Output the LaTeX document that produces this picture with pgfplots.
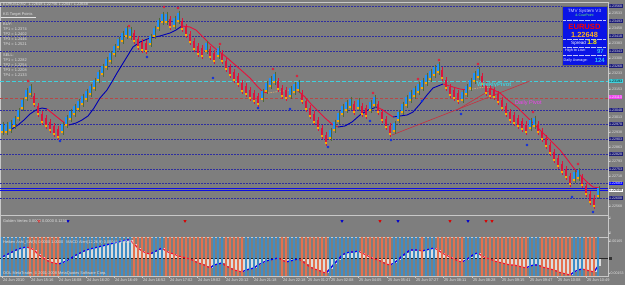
\documentclass[border=0pt]{standalone}
\usepackage{fontspec}
\setmainfont{Liberation Sans}
\usepackage{pgfplots}
\pgfplotsset{compat=1.18}
\usepackage{pgfplotstable}
\definecolor{bg}{HTML}{7E7E7E}
\definecolor{frame}{HTML}{C8C8C8}
\definecolor{hablue}{HTML}{1E90FF}
\definecolor{haolive}{HTML}{4F6B35}
\definecolor{hared}{HTML}{DC143C}
\definecolor{tip}{HTML}{FFA500}
\definecolor{maBlue}{HTML}{0000B4}
\definecolor{maRed}{HTML}{E8103C}
\definecolor{maTan}{HTML}{C8A070}
\definecolor{lvl}{HTML}{2E2EA0}
\definecolor{wp}{HTML}{40D0DC}
\definecolor{dp}{HTML}{B84646}
\definecolor{dpm}{HTML}{F040F0}
\definecolor{txt}{HTML}{E2E2E2}
\definecolor{navybox}{HTML}{1C1C78}
\definecolor{macdBlue}{HTML}{3F8DC6}
\definecolor{macdOr}{HTML}{E3714F}
\definecolor{hist}{HTML}{DCDCDC}
\definecolor{tmv}{HTML}{0A14E6}
\definecolor{trend}{HTML}{C83040}
\definecolor{frred}{HTML}{E0203C}
\definecolor{frblue}{HTML}{1030E0}
\definecolor{gold}{HTML}{FFB020}
\newcommand{\ft}{\fontsize{3.9}{4.4}\selectfont}
\newcommand{\lb}{\fontsize{3.6}{4}\selectfont}

% all bars: x, candle centre (px), MACD value
\pgfplotstableread{
x c m
2 128 1
6 128 3
10 126 5
14 122 7
18 114 9
22 104 10
26 94 11
30 90 10
34 100 8
38 110 4
42 118 1
46 122 -2
50 126 -4
54 130 -5
58 133 -6
62 128 -5
66 121 -3
70 115 -1
74 110 2
78 105 4
82 100 6
86 95 8
90 90 9
94 84 10
98 76 11
102 70 12
106 63 13
110 57 14
114 50 15
118 43 16
122 37 17
126 32 18
130 33 18
134 37 14
138 43 10
142 46 7
146 47 5
150 40 4
154 32 6
158 24 8
162 18 10
166 18 7
170 23 5
174 22 4
178 17 2
182 25 1
186 31 0
190 38 -1
194 45 -3
198 50 -5
202 52 -6
206 47 -8
210 53 -10
214 57 -7
218 52 -6
222 57 -5
226 65 -8
230 71 -10
234 76 -12
238 80 -13
242 87 -14
246 90 -12
250 94 -11
254 97 -10
258 100 -7
262 95 -5
266 87 -3
270 82 -2
274 78 -1
278 85 0
282 92 -2
286 94 -4
290 92 -3
294 88 -2
298 86 -1
302 97 -3
306 105 -6
310 112 -9
314 118 -11
318 124 -12
322 132 -14
326 139 -15
330 134 -11
334 126 -6
338 117 -2
342 110 3
346 106 5
350 103 6
354 108 6
358 104 7
362 110 5
366 112 3
370 106 1
374 101 -1
378 108 -2
382 116 -4
386 123 -6
390 130 -7
394 127 -5
398 116 -2
402 108 2
406 101 5
410 96 8
414 92 8
418 88 8
422 84 7
426 79 8
430 75 9
434 71 10
438 68 8
442 74 5
446 84 3
450 91 1
454 94 -1
458 97 -3
462 96 -4
466 90 -2
470 84 1
474 77 4
478 73 5
482 80 2
486 89 0
490 92 -1
494 93 -3
498 98 -4
502 104 -5
506 110 -6
510 116 -7
514 119 -7
518 122 -8
522 125 -9
526 128 -10
530 124 -8
534 122 -7
538 128 -7
542 135 -9
546 142 -10
550 149 -11
554 156 -12
558 162 -14
562 168 -15
566 173 -16
570 180 -17
574 176 -14
578 174 -12
582 181 -11
586 190 -12
590 198 -13
594 202 -14
598 192 -8
}\bars

% bullish (blue) candles
\pgfplotstableread{
x c
2 128
6 128
10 126
14 122
18 114
22 104
26 94
30 90
62 128
66 121
70 115
74 110
78 105
82 100
86 95
90 90
94 84
98 76
102 70
106 63
110 57
114 50
118 43
122 37
126 32
130 33
150 40
154 32
158 24
162 18
166 18
174 22
178 17
206 47
218 52
262 95
266 87
270 82
274 78
290 92
294 88
298 86
330 134
334 126
338 117
342 110
346 106
350 103
358 104
370 106
374 101
394 127
398 116
402 108
406 101
410 96
414 92
418 88
422 84
426 79
430 75
434 71
438 68
462 96
466 90
470 84
474 77
478 73
530 124
534 122
574 176
578 174
598 192
}\bluec

% bearish (red) candles
\pgfplotstableread{
x c
34 100
38 110
42 118
46 122
50 126
54 130
58 133
134 37
138 43
142 46
146 47
170 23
182 25
186 31
190 38
194 45
198 50
202 52
210 53
214 57
222 57
226 65
230 71
234 76
238 80
242 87
246 90
250 94
254 97
258 100
278 85
282 92
286 94
302 97
306 105
310 112
314 118
318 124
322 132
326 139
354 108
362 110
366 112
378 108
382 116
386 123
390 130
442 74
446 84
450 91
454 94
458 97
482 80
486 89
490 92
494 93
498 98
502 104
506 110
510 116
514 119
518 122
522 125
526 128
538 128
542 135
546 142
550 149
554 156
558 162
562 168
566 173
570 180
582 181
586 190
590 198
594 202
}\redc

\begin{document}
\begin{tikzpicture}[x=1pt,y=1pt]
\useasboundingbox (0,0) rectangle (625,285);
\fill[bg] (0,0) rectangle (625,285);

% ---------------- main price panel ----------------
\begin{axis}[
  at={(0pt,70pt)}, anchor=south west, scale only axis,
  width=608pt, height=213pt,
  xmin=0, xmax=608, ymin=2, ymax=215, y dir=reverse,
  clip=false,
  axis line style={draw=frame, line width=0.6pt},
  xtick=\empty,
  ytick pos=right,
  ytick={13,28,43,58,73,89,117,132,147,161,176,206},
  yticklabels={1.23533,1.23458,1.23383,1.23308,1.23233,1.23153,1.23013,1.22938,1.22863,1.22793,1.22718,1.22568},
  yticklabel pos=right,
  yticklabel style={font=\lb, text=txt, inner sep=0.4pt, anchor=west, xshift=-1pt},
  tick align=outside, major tick length=1.5pt, tick style={draw=frame, line width=0.4pt},
  extra y ticks={6,21,36,51,66,110,124,139,154,169,198},
  extra y tick labels={1.23568,1.23493,1.23418,1.23343,1.23268,1.23048,1.22978,1.22903,1.22828,1.22753,1.22608},
  extra y tick style={yticklabel style={fill=navybox}},
]
% level lines
\pgfplotsinvokeforeach{6,21,36,51,66,110,124,139,154,169,183,198}{
  \addplot[lvl, line width=0.4pt, dash pattern=on 1.5pt off 1.5pt, forget plot] coordinates {(0,#1) (608,#1)};
}
\addplot[wp, line width=0.6pt, dash pattern=on 4pt off 2pt] coordinates {(0,81) (608,81)};
\addplot[dp, line width=0.5pt, dash pattern=on 3pt off 2pt] coordinates {(0,98) (608,98)};
\addplot[blue!70!lvl, line width=0.4pt] coordinates {(0,188) (608,188)};
\addplot[blue!70!lvl, line width=0.4pt] coordinates {(0,190.5) (608,190.5)};
% trend lines
\addplot[trend, line width=0.6pt] coordinates {(392,135) (530,81)};
\addplot[trend, line width=0.6pt] coordinates {(457,110) (492,89)};
% candles: wicks
\addplot[only marks, mark=|, mark size=6.5, mark options={draw=haolive, line width=1.3pt}] table[x expr=\thisrow{x}+1.5, y=c] {\bluec};
\addplot[only marks, mark=|, mark size=7, mark options={draw=hared, line width=0.7pt}] table[x=x, y=c] {\redc};
% candles: bodies
\addplot[only marks, mark=|, mark size=4, mark options={draw=hablue, line width=2pt}] table[x=x, y=c] {\bluec};
\addplot[only marks, mark=|, mark size=4, mark options={draw=hared, line width=2pt}] table[x=x, y=c] {\redc};
\addplot[only marks, mark=square*, mark size=0.45, color=tip] table[x=x, y expr=\thisrow{c}+4] {\bars};
% moving average
\addplot[maBlue, line width=0.9pt] coordinates {(12,129) (18,125) (24,120) (30,114) (36,110) (42,108) (47,109)};
\addplot[maRed, line width=0.9pt] coordinates {(47,109) (52,113) (57,117) (62,121) (66,124) (69,125)};
\addplot[maBlue, line width=0.9pt] coordinates {(69,125) (76,123) (82,120) (88,116) (94,108) (100,98) (107,90) (113,80) (117,73) (125,60) (133,47) (140,42) (150,38) (160,36) (170,33) (176,30) (182,26)};
\addplot[maRed, line width=0.9pt] coordinates {(182,26) (190,27) (196,30) (203,37) (210,44) (217,50) (225,56) (233,63) (241,70) (250,78) (257,86) (263,92) (268,93)};
\addplot[maTan, line width=0.9pt, dash pattern=on 1.5pt off 1pt] coordinates {(268,93) (275,92) (283,91) (290,90) (297,90)};
\addplot[maRed, line width=0.9pt] coordinates {(297,90) (305,97) (311,104) (317,110) (325,118) (333,125) (338,127)};
\addplot[maBlue, line width=0.9pt] coordinates {(338,127) (345,126) (352,122) (360,115) (368,110) (377,107)};
\addplot[maRed, line width=0.9pt] coordinates {(377,107) (383,110) (387,113) (393,117)};
\addplot[maBlue, line width=0.9pt] coordinates {(393,117) (400,116) (407,115) (413,112) (420,104) (427,95) (433,88) (443,84)};
\addplot[maRed, line width=0.9pt] coordinates {(443,84) (453,87) (460,89) (467,90)};
\addplot[maTan, line width=0.9pt, dash pattern=on 1.5pt off 1pt] coordinates {(467,90) (478,88) (485,87) (490,88)};
\addplot[maRed, line width=0.9pt] coordinates {(490,88) (500,93) (508,100) (517,107) (524,114) (530,120) (537,127) (543,133) (552,142) (560,150) (567,159) (573,167) (578,173) (583,178) (588,183) (593,187) (600,188)};
% fractals
\addplot[only marks, mark=*, mark size=1.2, color=frred] coordinates {(28,81) (129,26) (164,7) (178,8) (220,44) (273,69) (297,76) (373,93) (418,79) (439,60) (478,64) (533,112) (578,164)};
\addplot[only marks, mark=*, mark size=1.2, color=frblue] coordinates {(60,141) (147,57) (213,78) (258,108) (290,109) (328,147) (370,121) (391,140) (422,101) (461,114) (527,145) (572,197) (593,212)};
\end{axis}

% ---------------- Golden Vertex panel ----------------
\begin{axis}[
  at={(0pt,48pt)}, anchor=south west, scale only axis,
  width=608pt, height=22pt,
  xmin=0, xmax=608, ymin=-0.267, ymax=1.2,
  clip=false,
  axis line style={draw=frame, line width=0.6pt},
  xtick=\empty,
  ytick pos=right, ytick={0,1}, yticklabels={0,1},
  yticklabel style={font=\lb, text=txt, inner sep=0.4pt, anchor=west, xshift=-1pt},
  tick align=outside, major tick length=1.5pt, tick style={draw=frame, line width=0.4pt},
]
\addplot[only marks, mark=triangle*, mark size=1.4, color=red!85!black, mark options={rotate=180}] coordinates {(39,0.8) (185,0.8) (380,0.8) (450,0.8) (486,0.8) (492,0.8)};
\addplot[only marks, mark=triangle*, mark size=1.4, color=blue!80!black, mark options={rotate=180}] coordinates {(68,0.8) (342,0.8) (398,0.8) (468,0.8)};
\end{axis}

% ---------------- MACD panel ----------------
\begin{axis}[
  at={(0pt,9pt)}, anchor=south west, scale only axis,
  width=608pt, height=39pt,
  xmin=0, xmax=608, ymin=-18, ymax=21,
  clip=false,
  axis line style={draw=frame, line width=0.6pt},
  xtick pos=left,
  xtick={2,30,58,86,114,142,169,197,225,253,282,307,330,358,387,415,443,472,501,529,557,586},
  xticklabels={24 Jun 2010,24 Jun 15:16,24 Jun 16:08,24 Jun 16:20,24 Jun 16:49,24 Jun 16:52,24 Jun 17:02,24 Jun 19:02,24 Jun 20:12,24 Jun 21:18,24 Jun 22:18,25 Jun 01:27,25 Jun 02:08,25 Jun 04:05,25 Jun 05:41,25 Jun 07:27,25 Jun 08:11,25 Jun 08:28,25 Jun 09:15,25 Jun 09:47,25 Jun 10:08,25 Jun 10:49},
  xticklabel style={anchor=north west, font=\ft, text=txt, inner sep=0.3pt, xshift=0.5pt},
  ytick pos=right, ytick={17,-15}, yticklabels={0.00165,-0.00153},
  yticklabel style={font=\lb, text=txt, inner sep=0.4pt, anchor=west, xshift=-1pt},
  tick align=outside, major tick length=1.8pt, tick style={draw=frame, line width=0.4pt},
]
% direction stripes
\addplot[only marks, mark=|, mark size=19.5, mark options={draw=macdBlue, line width=2pt}]
  table[row sep=\\, x=x, y expr=1.5] {x\\2\\6\\10\\14\\18\\22\\26\\62\\66\\70\\74\\78\\82\\86\\90\\94\\98\\102\\106\\110\\114\\118\\122\\126\\130\\154\\158\\162\\214\\218\\222\\246\\250\\254\\258\\262\\266\\270\\274\\278\\290\\294\\298\\330\\334\\338\\342\\346\\350\\354\\358\\394\\398\\402\\406\\410\\414\\418\\426\\430\\434\\466\\470\\474\\478\\530\\534\\538\\574\\578\\582\\598\\};
\addplot[only marks, mark=|, mark size=19.5, mark options={draw=macdOr, line width=2pt}]
  table[row sep=\\, x=x, y expr=1.5] {x\\30\\34\\38\\42\\46\\50\\54\\58\\134\\138\\142\\146\\150\\166\\170\\174\\178\\182\\186\\190\\194\\198\\202\\206\\210\\226\\230\\234\\238\\242\\282\\286\\302\\306\\310\\314\\318\\322\\326\\362\\366\\370\\374\\378\\382\\386\\390\\422\\438\\442\\446\\450\\454\\458\\462\\482\\486\\490\\494\\498\\502\\506\\510\\514\\518\\522\\526\\542\\546\\550\\554\\558\\562\\566\\570\\586\\590\\594\\};
\addplot[ycomb, draw=hist, line width=1.1pt] table[x expr=\thisrow{x}+2, y=m] {\bars};
\addplot[black!85, line width=0.5pt] coordinates {(0,0) (608,0)};
\addplot[maRed, line width=1.1pt] table[x=x, y=m] {\bars};
\pgfplotsset{mb/.style={blue, line width=1.1pt}}
\addplot[mb] coordinates {(2,1)(6,3)(10,5)(14,7)(18,9)(22,10)(26,11)};
\addplot[mb] coordinates {(58,-6)(62,-5)(66,-3)(70,-1)(74,2)(78,4)(82,6)(86,8)(90,9)(94,10)(98,11)(102,12)(106,13)(110,14)(114,15)(118,16)(122,17)(126,18)(130,18)};
\addplot[mb] coordinates {(150,4)(154,6)(158,8)(162,10)};
\addplot[mb] coordinates {(210,-10)(214,-7)(218,-6)(222,-5)};
\addplot[mb] coordinates {(242,-14)(246,-12)(250,-11)(254,-10)(258,-7)(262,-5)(266,-3)(270,-2)(274,-1)(278,0)};
\addplot[mb] coordinates {(286,-4)(290,-3)(294,-2)(298,-1)};
\addplot[mb] coordinates {(326,-15)(330,-11)(334,-6)(338,-2)(342,3)(346,5)(350,6)(354,6)(358,7)};
\addplot[mb] coordinates {(390,-7)(394,-5)(398,-2)(402,2)(406,5)(410,8)(414,8)(418,8)};
\addplot[mb] coordinates {(422,7)(426,8)(430,9)(434,10)};
\addplot[mb] coordinates {(462,-4)(466,-2)(470,1)(474,4)(478,5)};
\addplot[mb] coordinates {(526,-10)(530,-8)(534,-7)(538,-7)};
\addplot[mb] coordinates {(570,-17)(574,-14)(578,-12)(582,-11)};
\addplot[mb] coordinates {(594,-14)(598,-8)};
\end{axis}

% ---------------- overlays ----------------
\fill[black!80] (608.5,25.5) rectangle (612,28.5);
% special price labels
\node[fill=wp, text=black, font=\lb, inner sep=0.4pt, anchor=west] at (608.6,204) {1.23193};
\node[fill=dpm, text=white, font=\lb, inner sep=0.4pt, anchor=west] at (608.6,188) {1.23113};
\node[fill=blue, text=white, font=\lb, inner sep=0.4pt, anchor=west] at (608.6,101.5) {1.22683};
\node[fill=white, text=black, font=\lb, inner sep=0.4pt, anchor=west] at (608.6,94.5) {1.22648};

% header texts
\begin{scope}[every node/.style={anchor=west, font=\ft, text=txt, inner sep=0pt}]
\node at (3,281) {EURUSD,M2\ \ 1.22648 1.22756 1.22647 1.22648};
\node at (3,271) {KG Target Points};
\node at (3,261) {BUY:};
\node at (3,256) {TP1 = 1.2374};
\node at (3,251) {TP2 = 1.2402};
\node at (3,246) {TP3 = 1.2446};
\node at (3,241) {TP4 = 1.2521};
\node at (3,230) {SELL:};
\node at (3,225) {TP1 = 1.2282};
\node at (3,220) {TP2 = 1.2254};
\node at (3,214.5) {TP3 = 1.2208};
\node at (3,209.5) {TP4 = 1.2133};
\node at (3,64) {Golden Vertex 0.0000 0.0000 0.1230};
\node at (3,43) {Heiken Ashi\_SW(5) 0.0000 1.0000\ \ \ MACD Alert(12,26,9) 0.00044 -0.00056};
\node at (3,12) {OOL MetaTrader, \textcopyright\ 2001-2008 MetaQuotes Software Corp.};
\end{scope}
\draw[txt, line width=0.4pt] (1,267.5) -- (36,267.5);

% pivot labels
\node[anchor=west, font=\fontsize{5.8}{6.5}\selectfont\bfseries, text=wp, inner sep=0pt] at (477,200) {WeeklyPivot};
\node[anchor=west, font=\fontsize{5.6}{6.5}\selectfont, text=dpm, inner sep=0pt] at (515,182) {Daily Pivot};

% TMV box
\fill[tmv] (562,220) rectangle (607,279);
\draw[black!60, line width=0.4pt] (562,220) rectangle (607,279);
\foreach \yy in {265,246,238,229.5} {\draw[white!75!tmv, line width=0.35pt, dash pattern=on 0.6pt off 0.6pt] (563,\yy) -- (606,\yy);}
\node[font=\fontsize{4.6}{5}\selectfont, text=white!85!blue, inner sep=0pt] at (584.5,274) {TMV System V3};
\node[font=\fontsize{3.5}{4}\selectfont, text=green!60!white, inner sep=0pt] at (584.5,269.3) {\& CowPoint};
\node[font=\fontsize{7.6}{8}\selectfont\bfseries, text=red, inner sep=0pt] at (584.5,258.6) {EURUSD};
\node[font=\fontsize{7.4}{8}\selectfont\bfseries, text=gold, inner sep=0pt] at (584.5,250.5) {1.22648};
\node[font=\fontsize{4.6}{5}\selectfont, text=white, inner sep=0pt] at (584,242) {Spread \textcolor{yellow}{\fontsize{6.8}{7}\selectfont\bfseries 1.8}};
\node[anchor=west, font=\fontsize{3.7}{4}\selectfont, text=white, inner sep=0pt] at (565,234) {High to Low:};
\node[anchor=east, font=\fontsize{6}{6.5}\selectfont\bfseries, text=cyan!80!white, inner sep=0pt] at (604,234) {97};
\node[anchor=west, font=\fontsize{3.7}{4}\selectfont, text=white, inner sep=0pt] at (563.5,224.5) {Daily Average:};
\node[anchor=east, font=\fontsize{6}{6.5}\selectfont\bfseries, text=cyan!80!white, inner sep=0pt] at (605,224.5) {124};
\end{tikzpicture}
\end{document}
